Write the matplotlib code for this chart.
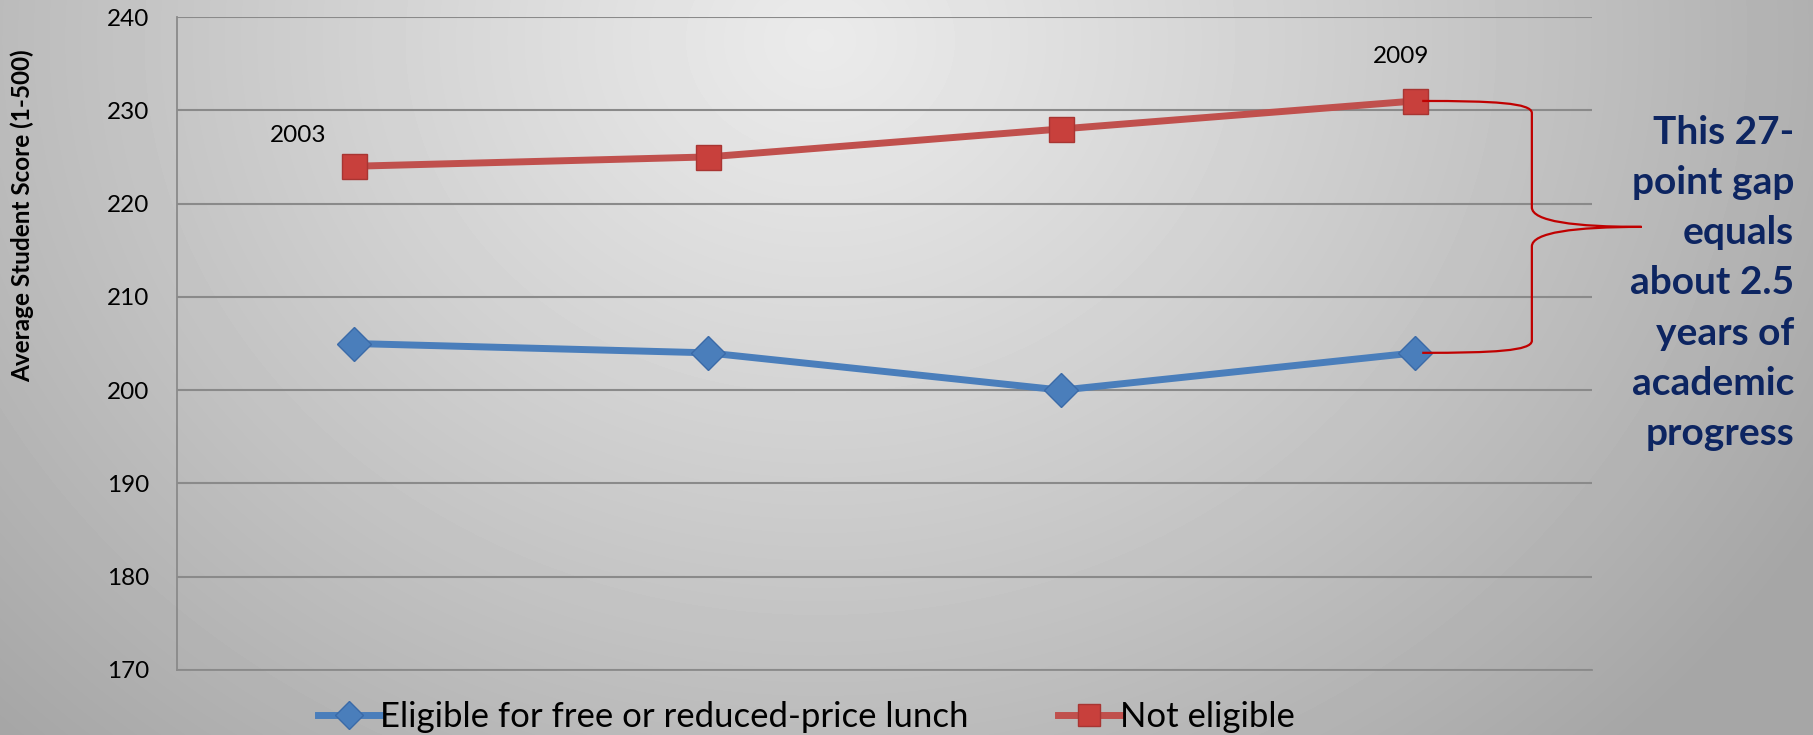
#!/usr/bin/env python3
"""Average student score by lunch eligibility, 2003-2009."""

import numpy as np
import matplotlib
matplotlib.use("Agg")
import matplotlib.pyplot as plt
from matplotlib.path import Path
from matplotlib.patches import PathPatch

years = ["2003", "2005", "2007", "2009"]
eligible = [205, 204, 200, 204]
not_eligible = [224, 225, 228, 231]
series_labels = ["Eligible for free or reduced-price lunch", "Not eligible"]
y_ticks = [170, 180, 190, 200, 210, 220, 230, 240]
gap_note = "This 27-\npoint gap\nequals\nabout 2.5\nyears of\nacademic\nprogress"

BLUE = "#4a7ebb"
RED = "#c0504d"
NAVY = "#0d2561"

plt.rcParams["font.family"] = ["Lato", "DejaVu Sans"]

W, H = 1813, 735
fig = plt.figure(figsize=(W / 100, H / 100), dpi=100)

# radial grey background, light near the top centre
bg = fig.add_axes([0, 0, 1, 1], zorder=-10)
yy, xx = np.mgrid[0:H, 0:W]
dist = np.sqrt(((xx - 820) / 1.0) ** 2 + ((yy - 40) / 0.85) ** 2)
shade = 0.92 - 0.27 * np.clip(dist / 1150, 0, 1) ** 1.1
bg.imshow(shade, cmap="gray", vmin=0, vmax=1, aspect="auto", interpolation="bilinear")
bg.axis("off")

ax = fig.add_axes([177 / W, 1 - 670 / H, (1592 - 177) / W, (670 - 17) / H])
ax.patch.set_alpha(0)

x = np.arange(len(years))
ax.plot(x, eligible, color=BLUE, lw=5, marker="D", ms=17, mfc=BLUE, mec="#3a6aa8",
        mew=1, label=series_labels[0], zorder=3)
ax.plot(x, not_eligible, color=RED, lw=5, marker="s", ms=18, mfc="#c8403c", mec="#a83532",
        mew=1, label=series_labels[1], zorder=3)

ax.set_xlim(-0.5, len(years) - 0.5)
ax.set_ylim(y_ticks[0], y_ticks[-1])
ax.set_yticks(y_ticks)
ax.set_xticks([])
ax.tick_params(axis="y", length=0, pad=20, labelsize=17.5)
ax.grid(axis="y", color="#8a8a8a", lw=1.5)
ax.set_axisbelow(True)
for side in ["top", "right"]:
    ax.spines[side].set_visible(False)
for side in ["left", "bottom"]:
    ax.spines[side].set_color("#8a8a8a")
    ax.spines[side].set_linewidth(1.3)

# year labels at the first and last points
ax.annotate(years[0], (0, not_eligible[0]), xytext=(-40, 22), textcoords="offset points",
            ha="center", va="center", fontsize=17.5)
ax.annotate(years[-1], (3, not_eligible[-1]), xytext=(-10, 32), textcoords="offset points",
            ha="center", va="center", fontsize=17.5)

# curly brace between the two 2009 points
top, bot = not_eligible[-1], eligible[-1]
mid = (top + bot) / 2
bx, tip = 3.33, 3.64
verts = [
    (3.02, top), (3.22, top), (bx, top - 0.2), (bx, top - 1.3),
    (bx, mid + 2.1),
    (bx, mid + 0.6), (3.45, mid), (tip, mid),
    (3.45, mid), (bx, mid - 0.6), (bx, mid - 2.1),
    (bx, bot + 1.3),
    (bx, bot + 0.2), (3.22, bot), (3.02, bot),
]
codes = [Path.MOVETO, Path.CURVE4, Path.CURVE4, Path.CURVE4,
         Path.LINETO,
         Path.CURVE4, Path.CURVE4, Path.CURVE4,
         Path.CURVE4, Path.CURVE4, Path.CURVE4,
         Path.LINETO,
         Path.CURVE4, Path.CURVE4, Path.CURVE4]
ax.add_patch(PathPatch(Path(verts, codes), fill=False, ec="#c00000", lw=1.6,
                       clip_on=False, zorder=4))

fig.text(1794 / W, 1 - 283 / H, gap_note, ha="right", va="center", fontsize=28,
         fontweight="bold", color=NAVY, linespacing=1.52)

fig.text(22 / W, 1 - 216 / H, "Average Student Score (1-500)", rotation=90,
         ha="center", va="center", fontsize=17.5, fontweight="bold")

fig.legend(loc="center left", bbox_to_anchor=(318 / W, 1 - 717 / H), ncol=2,
           frameon=False, fontsize=25, handlelength=1.8, handletextpad=0.0,
           columnspacing=2.55, borderaxespad=0, borderpad=0, markerscale=0.85)

fig.savefig("out.png", dpi=100)
